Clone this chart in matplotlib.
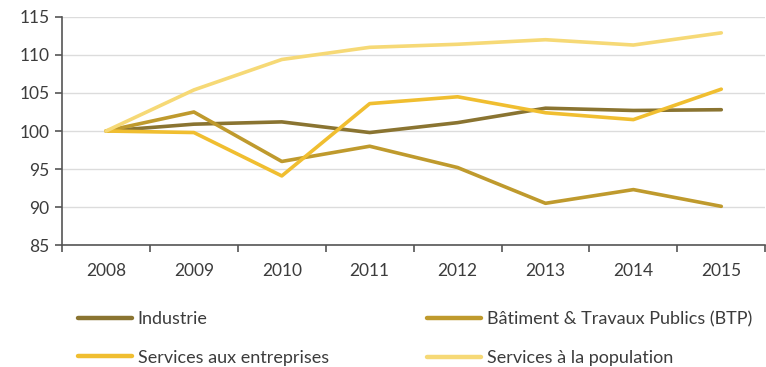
import matplotlib.pyplot as plt
from matplotlib.ticker import MultipleLocator, FixedLocator

plt.rcParams['font.family'] = ['Lato', 'DejaVu Sans']

years = ['2008', '2009', '2010', '2011', '2012', '2013', '2014', '2015']
industrie = [100, 100.9, 101.2, 99.8, 101.1, 103.0, 102.7, 102.8]
btp = [100, 102.5, 96.0, 98.0, 95.2, 90.5, 92.3, 90.1]
services_entreprises = [100, 99.8, 94.1, 103.6, 104.5, 102.4, 101.5, 105.5]
services_population = [100, 105.4, 109.4, 111.0, 111.4, 112.0, 111.3, 112.9]

labels = ['Industrie', 'Bâtiment & Travaux Publics (BTP)',
          'Services aux entreprises', 'Services à la population']
colors = ['#8a7431', '#bf9a2d', '#f0be30', '#f6d976']

fig = plt.figure(figsize=(7.66, 3.67), dpi=100)
ax = fig.add_axes([0.081, 0.332, 0.918, 0.622])

x = list(range(len(years)))
series = [industrie, btp, services_entreprises, services_population]
lines = []
for vals, lab, col in zip(series, labels, colors):
    ln, = ax.plot(x, vals, color=col, lw=2.6, label=lab, solid_capstyle='round')
    lines.append(ln)

ax.set_xlim(-0.5, len(years) - 0.5)
ax.set_ylim(85, 115)
ax.yaxis.set_major_locator(MultipleLocator(5))
ax.grid(axis='y', color='#dcdcdc', lw=1)
ax.set_axisbelow(True)

ax.set_xticks(x)
ax.set_xticklabels(years)
ax.xaxis.set_minor_locator(FixedLocator([i - 0.5 for i in range(len(years) + 1)]))
ax.tick_params(axis='x', which='major', length=0, pad=13)
ax.tick_params(axis='x', which='minor', length=5, width=1.2, color='#555555')
ax.tick_params(axis='y', length=5, width=1.2, color='#555555', pad=4)
ax.tick_params(labelsize=12.5, labelcolor='#3c3c3c')

for s in ['top', 'right']:
    ax.spines[s].set_visible(False)
for s in ['left', 'bottom']:
    ax.spines[s].set_color('#555555')
    ax.spines[s].set_linewidth(1.2)

# two legend columns, placed separately
leg_kw = dict(loc='center left', frameon=False, handlelength=3.0,
              handletextpad=0.3, labelspacing=1.25, borderpad=0,
              borderaxespad=0, labelcolor='#3c3c3c', fontsize=13)
leg1 = fig.legend([lines[0], lines[2]], [labels[0], labels[2]],
                  bbox_to_anchor=(78 / 766, 1 - 338.5 / 367), **leg_kw)
leg2 = fig.legend([lines[1], lines[3]], [labels[1], labels[3]],
                  bbox_to_anchor=(427 / 766, 1 - 338.5 / 367), **leg_kw)
for leg in (leg1, leg2):
    for h in leg.legend_handles:
        h.set_linewidth(3.2)

fig.savefig('out.png', dpi=100)
